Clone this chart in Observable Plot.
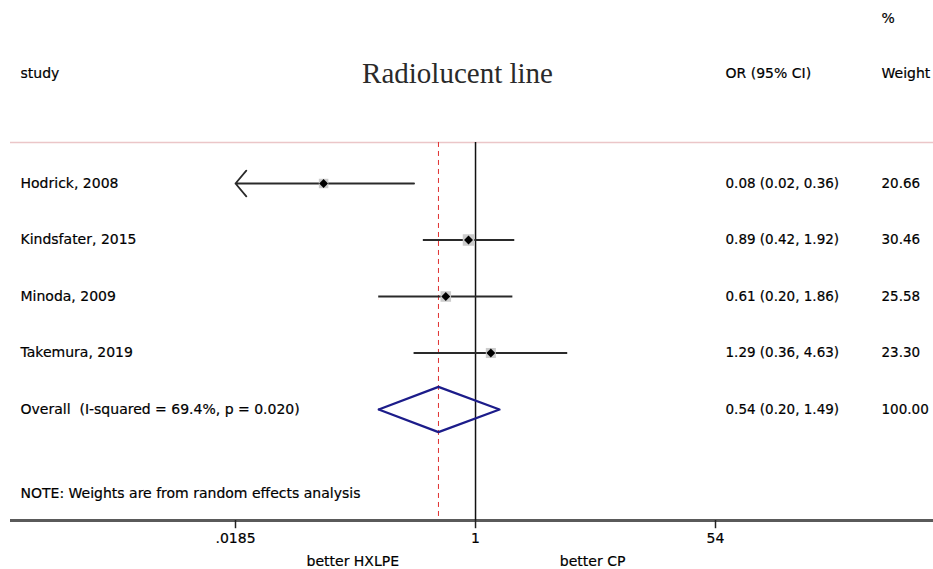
<!DOCTYPE html>
<html>
<head>
<meta charset="utf-8">
<script src="https://cdn.jsdelivr.net/npm/d3@7"></script>
<script src="https://cdn.jsdelivr.net/npm/@observablehq/plot@0.6"></script>
<style>
  html, body { margin: 0; padding: 0; background: #fff; }
  #chart svg { display: block; }
</style>
</head>
<body>
<div id="chart"></div>
<script>
// ---- data ----
const studies = ["Hodrick, 2008", "Kindsfater, 2015", "Minoda, 2009", "Takemura, 2019"];
const orValues = [0.08, 0.89, 0.61, 1.29];
const ciLower = [0.02, 0.42, 0.20, 0.36];
const ciUpper = [0.36, 1.92, 1.86, 4.63];
const weights = [20.66, 30.46, 25.58, 23.30];
const arrowLeft = [true, false, false, false];

const overallLabel = "Overall  (I-squared = 69.4%, p = 0.020)";
const overallOR = 0.54;
const overallLower = 0.20;
const overallUpper = 1.49;
const overallWeight = 100.00;

const xTicks = [0.0185, 1, 54];
const xTickLabels = [".0185", "1", "54"];
const favourLabels = ["better HXLPE", "better CP"];
const favourX = [0.13, 7.0];

const title = "Radiolucent line";
const noteText = "NOTE: Weights are from random effects analysis";

// ---- derived tables ----
const fmt = v => v.toFixed(2);
const rows = studies.map((s, i) => ({
  study: s, row: i + 1, or: orValues[i], lo: ciLower[i], hi: ciUpper[i],
  w: weights[i], arrow: arrowLeft[i],
  ci: `${fmt(orValues[i])} (${fmt(ciLower[i])}, ${fmt(ciUpper[i])})`,
  wt: fmt(weights[i])
}));
const overallRow = studies.length + 1;
const overall = {
  study: overallLabel, row: overallRow, or: overallOR, lo: overallLower, hi: overallUpper,
  ci: `${fmt(overallOR)} (${fmt(overallLower)}, ${fmt(overallUpper)})`,
  wt: fmt(overallWeight)
};
const allRows = [...rows, overall];
const diamondH = 0.4;
const diamond = [
  {x: overallLower, y: overallRow},
  {x: overallOR, y: overallRow - diamondH},
  {x: overallUpper, y: overallRow},
  {x: overallOR, y: overallRow + diamondH},
  {x: overallLower, y: overallRow}
];
const tickTable = xTicks.map((t, i) => ({x: t, label: xTickLabels[i]}));

const xMin = xTicks[0];
const topRow = 0.274;     // separator line under header
const axisRow = 6.965;    // bottom axis line
const tickEnd = 7.11;
const headerRow = -0.95;
const pctRow = -1.92;
const noteRow = 6.49;
const favourRow = 7.69;

const font = "DejaVu Sans, Liberation Sans, sans-serif";
const txt = {fill: "#000", stroke: "#000", strokeWidth: 0.2};

const chart = Plot.plot({
  width: 933,
  height: 569,
  marginTop: 0,
  marginBottom: 49,
  marginLeft: 10,
  marginRight: 0,
  style: {background: "#fff", fontFamily: font},
  x: {type: "log", domain: [xTicks[0], xTicks[2]], range: [235, 715], axis: null},
  y: {type: "linear", domain: [1, overallRow], range: [183, 409], axis: null},
  r: {type: "sqrt", domain: [0, d3.max(weights)], range: [0, 6.5]},
  marks: [
    // header separator
    Plot.ruleY([topRow], {stroke: "#ebc6c8", strokeWidth: 1.5}),
    // bottom axis line
    Plot.ruleY([axisRow], {stroke: "#5a5a5a", strokeWidth: 2.8}),
    Plot.ruleX(xTicks, {x: d => d, y1: axisRow, y2: tickEnd, stroke: "#222", strokeWidth: 1.5}),
    Plot.text(tickTable, {x: "x", text: "label", frameAnchor: "bottom", dy: 22, fontSize: 14, ...txt}),
    // overall effect dashed line
    Plot.ruleX([overallOR], {y1: topRow, y2: axisRow, stroke: "#e03030", strokeWidth: 1, strokeDasharray: "5,4"}),
    // null line
    Plot.ruleX([1], {y1: topRow, y2: axisRow, stroke: "#111", strokeWidth: 1.5}),
    // CIs
    Plot.ruleY(rows.filter(d => !d.arrow), {y: "row", x1: "lo", x2: "hi", stroke: "#2a2a2a", strokeWidth: 2}),
    Plot.arrow(rows.filter(d => d.arrow), {
      y1: "row", y2: "row", x1: "hi", x2: () => xMin,
      stroke: "#2a2a2a", strokeWidth: 1.8, headAngle: 100, headLength: 14
    }),
    // weight boxes
    Plot.dot(rows, {x: "or", y: "row", symbol: "square", r: "w", fill: "#cccccc", stroke: "none"}),
    // point estimates
    Plot.dot(rows, {x: "or", y: "row", symbol: "diamond2", r: 4, fill: "#000", stroke: "none"}),
    // overall diamond
    Plot.line(diamond, {x: "x", y: "y", stroke: "#1c1c8a", strokeWidth: 2.2}),
    // study labels
    Plot.text(allRows, {y: "row", text: "study", frameAnchor: "left", dx: 10, textAnchor: "start", fontSize: 14, ...txt}),
    // OR column
    Plot.text(allRows, {y: "row", text: "ci", frameAnchor: "left", dx: 715, textAnchor: "start", fontSize: 13.5, ...txt}),
    // Weight column
    Plot.text(allRows, {y: "row", text: "wt", frameAnchor: "left", dx: 871, textAnchor: "start", fontSize: 13.5, ...txt}),
    // headers
    Plot.text(["study"], {y: () => headerRow, text: d => d, frameAnchor: "left", dx: 10, textAnchor: "start", fontSize: 14, ...txt}),
    Plot.text(["OR (95% CI)"], {y: () => headerRow, text: d => d, frameAnchor: "left", dx: 715, textAnchor: "start", fontSize: 14, ...txt}),
    Plot.text(["Weight"], {y: () => headerRow, text: d => d, frameAnchor: "left", dx: 871, textAnchor: "start", fontSize: 14, ...txt}),
    Plot.text(["%"], {y: () => pctRow, text: d => d, frameAnchor: "left", dx: 871, textAnchor: "start", fontSize: 14, ...txt}),
    Plot.text([title], {y: () => headerRow, text: d => d, frameAnchor: "left", dx: 447, textAnchor: "middle", fontSize: 29, fontFamily: "Liberation Serif, Times New Roman, serif", fill: "#2a2a2a"}),
    // note
    Plot.text([noteText], {y: () => noteRow, text: d => d, frameAnchor: "left", dx: 10, textAnchor: "start", fontSize: 14, ...txt}),
    // favour labels
    Plot.text(favourLabels, {x: (d, i) => favourX[i], y: () => favourRow, text: d => d, textAnchor: "middle", fontSize: 14, ...txt})
  ]
});
document.getElementById("chart").appendChild(chart);
</script>
</body>
</html>
